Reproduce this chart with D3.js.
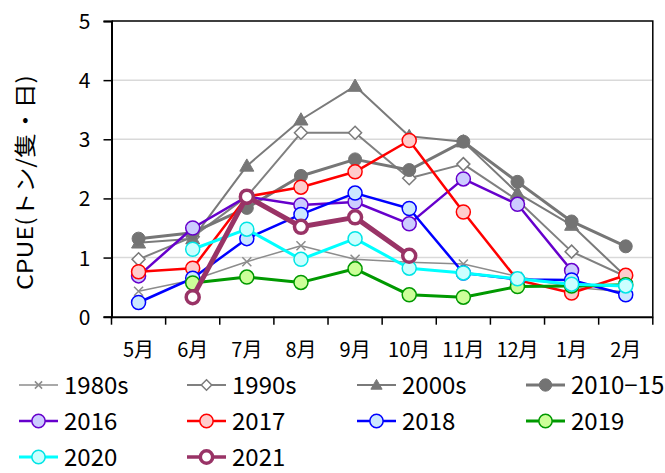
<!DOCTYPE html>
<html>
<head>
<meta charset="utf-8">
<script src="https://cdn.jsdelivr.net/npm/d3@7"></script>
<style>
  html, body { margin: 0; padding: 0; background: #fff; }
  svg { display: block; }
  text { font-family: "Noto Sans CJK JP", "Noto Sans", sans-serif; fill: #000; }
</style>
</head>
<body>
<svg id="chart" width="665" height="473"></svg>
<script>
// Monthly CPUE (t per vessel-day), May through February
const months = ["5月", "6月", "7月", "8月", "9月", "10月", "11月", "12月", "1月", "2月"];
const yTicks = [0, 1, 2, 3, 4, 5];

const s1980s  = [0.43, 0.62, 0.93, 1.20, 0.97, 0.92, 0.89, 0.68, 0.50, 0.42];
const s1990s  = [0.97, 1.35, 2.03, 3.11, 3.11, 2.34, 2.58, 1.97, 1.10, 0.68];
const s2000s  = [1.25, 1.32, 2.55, 3.33, 3.90, 3.05, 2.96, 2.09, 1.55, 0.68];
const s2010   = [1.32, 1.42, 1.84, 2.38, 2.66, 2.48, 2.96, 2.28, 1.61, 1.19];
const s2016   = [0.69, 1.50, 2.03, 1.89, 1.94, 1.57, 2.33, 1.90, 0.78, null];
const s2017   = [0.76, 0.82, 2.03, 2.19, 2.45, 2.98, 1.77, 0.62, 0.40, 0.70];
const s2018   = [0.24, 0.65, 1.32, 1.73, 2.09, 1.83, 0.74, 0.63, 0.62, 0.37];
const s2019   = [null, 0.57, 0.67, 0.58, 0.81, 0.37, 0.33, 0.51, 0.52, 0.54];
const s2020   = [null, 1.14, 1.48, 0.97, 1.32, 0.82, 0.74, 0.64, 0.55, 0.52];
const s2021   = [null, 0.33, 2.03, 1.52, 1.68, 1.03, null, null, null, null];

const seriesNames = ["1980s", "1990s", "2000s", "2010−15", "2016", "2017", "2018", "2019", "2020", "2021"];
const seriesValues = [s1980s, s1990s, s2000s, s2010, s2016, s2017, s2018, s2019, s2020, s2021];

// Drawing style per series: line colour/width and marker
const styles = [
  { line: "#8c8c8c", width: 1.5, marker: "cross",    stroke: "#8c8c8c", fill: "none",    mw: 1.5 },
  { line: "#808080", width: 2,   marker: "diamond",  stroke: "#7a7a7a", fill: "#ffffff", mw: 1.5 },
  { line: "#7a7a7a", width: 2,   marker: "triangle", stroke: "#777777", fill: "#777777", mw: 1 },
  { line: "#767676", width: 3,   marker: "dot",      stroke: "#737373", fill: "#737373", mw: 1 },
  { line: "#6600cc", width: 2.5, marker: "circle",   stroke: "#6600cc", fill: "#ccccff", mw: 1.5 },
  { line: "#ff0000", width: 2.5, marker: "circle",   stroke: "#ff0000", fill: "#ffcccc", mw: 1.5 },
  { line: "#0000ff", width: 2.5, marker: "circle",   stroke: "#0000ff", fill: "#cce8ff", mw: 1.5 },
  { line: "#009900", width: 3,   marker: "circle",   stroke: "#009900", fill: "#ccff99", mw: 1.5 },
  { line: "#00ffff", width: 3,   marker: "circle",   stroke: "#00e5e5", fill: "#ccffff", mw: 1.5 },
  { line: "#993366", width: 5,   marker: "circle",   stroke: "#993366", fill: "#ffffff", mw: 3.5 }
];

const svg = d3.select("#chart");
const plotLeft = 111.5, plotRight = 652.8, plotTop = 21, plotBottom = 316.7;

const x = d3.scaleBand().domain(months).range([plotLeft, plotRight]).padding(0);
const y = d3.scaleLinear().domain([0, 5]).range([plotBottom, plotTop]);

// Horizontal gridlines
svg.append("g")
  .selectAll("line")
  .data(yTicks.filter(d => d > 0 && d < 5))
  .join("line")
  .attr("x1", plotLeft).attr("x2", plotRight)
  .attr("y1", d => y(d)).attr("y2", d => y(d))
  .attr("stroke", "#d9d9d9").attr("stroke-width", 1.5);

// Plot frame (top and right sides)
svg.append("path")
  .attr("d", `M${plotLeft},${plotTop}H${plotRight}V${plotBottom}`)
  .attr("fill", "none").attr("stroke", "#000").attr("stroke-width", 1.5);

// Y axis
const yAxis = svg.append("g")
  .attr("transform", `translate(${plotLeft},0)`)
  .call(d3.axisLeft(y).tickValues(yTicks).tickSize(8).tickPadding(13).tickFormat(d3.format("d")));
yAxis.select(".domain").attr("stroke", "#000").attr("stroke-width", 2);
yAxis.selectAll(".tick line").attr("stroke", "#000").attr("stroke-width", 1.5);
yAxis.selectAll(".tick text").attr("font-size", 21).attr("font-family", "'Noto Sans CJK JP', sans-serif").attr("dy", "0.36em");

// X axis: labels at category centres, ticks at category boundaries
const xAxis = svg.append("g")
  .attr("transform", `translate(0,${plotBottom})`)
  .call(d3.axisBottom(x).tickSize(0).tickPadding(0));
xAxis.select(".domain").attr("stroke", "#000").attr("stroke-width", 2);
xAxis.selectAll(".tick text")
  .attr("font-size", 20).attr("font-family", "'Noto Sans CJK JP', sans-serif")
  .attr("y", 40).attr("dy", 0);
xAxis.selectAll(".boundary")
  .data(d3.range(months.length + 1))
  .join("line")
  .attr("class", "boundary")
  .attr("x1", i => plotLeft + i * x.step()).attr("x2", i => plotLeft + i * x.step())
  .attr("y1", 0).attr("y2", 8)
  .attr("stroke", "#000").attr("stroke-width", 1.5);

// Y axis title
svg.append("text")
  .attr("transform", "translate(32.5,182.5) rotate(-90)")
  .attr("text-anchor", "middle")
  .attr("font-size", 22)
  .attr("textLength", 215)
  .attr("lengthAdjust", "spacingAndGlyphs")
  .text("CPUE(トン/隻・日)");

// Marker drawing helper
function drawMarker(g, kind, st, cx, cy, scale) {
  const k = scale || 1;
  if (kind === "cross") {
    const s = 4.5 * k;
    g.append("path")
      .attr("d", `M${cx - s},${cy - s}L${cx + s},${cy + s}M${cx - s},${cy + s}L${cx + s},${cy - s}`)
      .attr("stroke", st.stroke).attr("stroke-width", st.mw).attr("fill", "none");
  } else if (kind === "diamond") {
    const s = 6.5 * k;
    g.append("path")
      .attr("d", `M${cx},${cy - s}L${cx + s},${cy}L${cx},${cy + s}L${cx - s},${cy}Z`)
      .attr("stroke", st.stroke).attr("stroke-width", st.mw).attr("fill", st.fill);
  } else if (kind === "triangle") {
    const s = 7 * k;
    g.append("path")
      .attr("d", `M${cx},${cy - s}L${cx + s},${cy + s * 0.75}L${cx - s},${cy + s * 0.75}Z`)
      .attr("stroke", st.stroke).attr("stroke-width", st.mw).attr("fill", st.fill);
  } else if (kind === "dot") {
    g.append("circle").attr("cx", cx).attr("cy", cy).attr("r", 6.5 * k)
      .attr("stroke", st.stroke).attr("stroke-width", st.mw).attr("fill", st.fill);
  } else {
    g.append("circle").attr("cx", cx).attr("cy", cy).attr("r", (st.mw > 2 ? 6.5 : 7) * k)
      .attr("stroke", st.stroke).attr("stroke-width", st.mw).attr("fill", st.fill);
  }
}

// Series lines and markers
const lineGen = d3.line()
  .defined(d => d.v != null)
  .x(d => x(d.m) + x.bandwidth() / 2)
  .y(d => y(d.v));

seriesValues.forEach((vals, i) => {
  const st = styles[i];
  const pts = months.map((m, j) => ({ m, v: vals[j] }));
  const g = svg.append("g").attr("class", "series");
  g.append("path")
    .attr("d", lineGen(pts))
    .attr("fill", "none")
    .attr("stroke", st.line)
    .attr("stroke-width", st.width)
    .attr("stroke-linejoin", "round");
  pts.filter(p => p.v != null).forEach(p => {
    drawMarker(g, st.marker, st, x(p.m) + x.bandwidth() / 2, y(p.v));
  });
});

// Legend: four columns, three rows
const legCols = [19, 187, 357, 526];
const legRows = [385, 421, 457];
const legend = svg.append("g").attr("class", "legend");
seriesNames.forEach((name, i) => {
  const st = styles[i];
  const lx = legCols[i % 4], ly = legRows[Math.floor(i / 4)];
  const g = legend.append("g");
  g.append("line")
    .attr("x1", lx).attr("x2", lx + 39).attr("y1", ly).attr("y2", ly)
    .attr("stroke", st.line).attr("stroke-width", Math.min(st.width, 3.5));
  drawMarker(g, st.marker, st, lx + 19.5, ly, st.marker === "circle" || st.marker === "dot" ? 0.95 : 0.8);
  g.append("text")
    .attr("x", lx + 45).attr("y", ly + 8.5)
    .attr("font-size", 24)
    .text(name);
});
</script>
</body>
</html>
